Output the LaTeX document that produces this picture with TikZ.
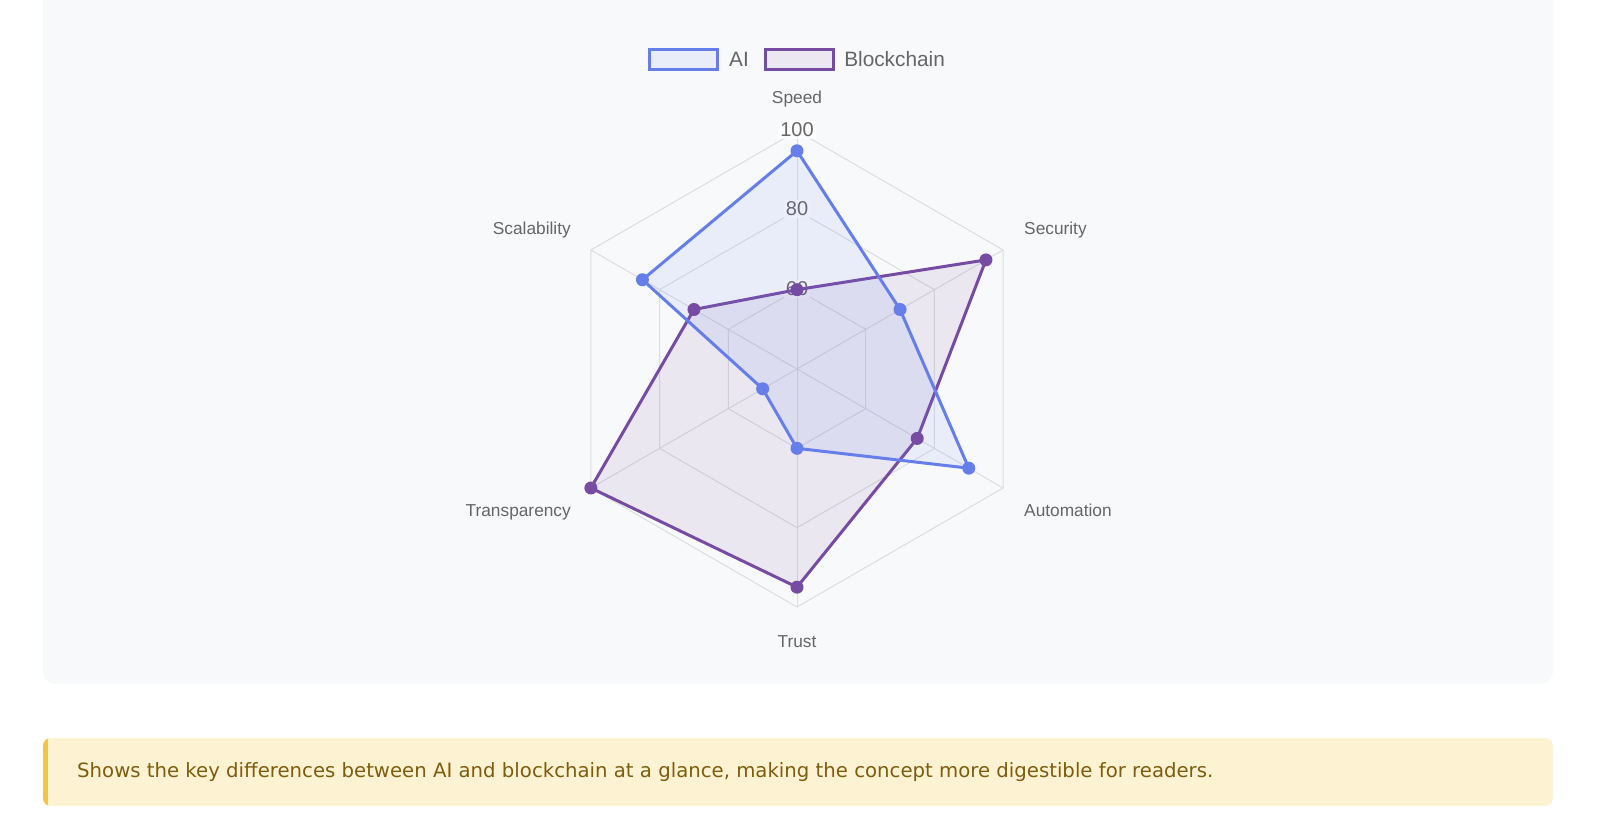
\documentclass[tikz,border=0pt]{standalone}
\usepackage{fontspec}
\setmainfont{Liberation Sans}
\newfontfamily\notefont{DejaVu Sans}
\usetikzlibrary{positioning}

\definecolor{aiblue}{HTML}{667EEA}
\definecolor{chainpurple}{HTML}{764BA2}
\definecolor{cardbg}{HTML}{F8F9FB}
\definecolor{gridgray}{HTML}{DDDDE0}
\definecolor{labelgray}{HTML}{666666}
\definecolor{notebg}{HTML}{FDF2D2}
\definecolor{notebar}{HTML}{F6C344}
\definecolor{notetext}{HTML}{7D5E10}

\begin{document}
\begin{tikzpicture}[x=1pt,y=1pt,
    grid/.style={draw=gridgray, line width=1pt},
    axislabel/.style={text=labelgray, font=\fontsize{17.3}{19}\selectfont, inner sep=0pt},
    ticklabel/.style={fill=white, fill opacity=0.75, text opacity=1, text=labelgray,
        font=\fontsize{20}{22}\selectfont, inner sep=2pt},
    legendbox/.style={minimum width=68pt, minimum height=20pt, inner sep=0pt, line width=3pt},
    legendtext/.style={text=labelgray, font=\fontsize{20.8}{23}\selectfont, inner sep=0pt},
    ailine/.style={draw=aiblue, line width=3pt, line join=round, fill=aiblue, fill opacity=0.1},
    chainline/.style={draw=chainpurple, line width=3pt, line join=round, fill=chainpurple, fill opacity=0.1}]
        \useasboundingbox (0,0) rectangle (1600,819);
        % Card and note box
        \fill[cardbg, rounded corners=12pt] (43,135) rectangle (1553,830);
        \fill[notebg, rounded corners=8pt] (43,13) rectangle (1553,81);
        \begin{scope}
            \clip[rounded corners=8pt] (43,13) rectangle (1553,81);
            \fill[notebar] (43,13) rectangle (48,81);
        \end{scope}
        \node[anchor=west, text=notetext, font=\notefont\fontsize{19.7}{23}\selectfont, inner sep=0pt] (note) at (77,47)
            {Shows the key differences between AI and blockchain at a glance, making the concept more digestible for readers.};
        % Legend
        \node[legendbox, draw=aiblue, fill=aiblue!10!cardbg] (aikey) at (683.5,759.5) {};
        \node[legendtext, right=10pt of aikey] (aitext) {AI};
        \node[legendbox, draw=chainpurple, fill=chainpurple!10!cardbg, right=15pt of aitext] (chainkey) {};
        \node[legendtext, right=9pt of chainkey] (chaintext) {Blockchain};
        % Radar chart
        \begin{scope}[shift={(797,450)}]
            % Grid rings and spokes
            \foreach \r in {79.33,158.67,238}
                \draw[grid] (90:\r) -- (30:\r) -- (-30:\r) -- (-90:\r) -- (210:\r) -- (150:\r) -- cycle;
            \foreach \i in {1,...,6} {
                \coordinate (out\i) at ({150-\i*60}:238);
                \draw[grid] (0,0) -- (out\i);
            }
            % Scale values
            \node[ticklabel, anchor=base] (tick100) at (0,232) {100};
            \node[ticklabel, anchor=base] (tick80) at (0,153) {80};
            \node[ticklabel, anchor=base] (tick60) at (0,73) {60};
            % Data points
            \foreach \v [count=\i] in {60,95,75,95,100,70}
                \coordinate (bc\i) at ({150-\i*60}:{(\v-40)*238/60});
            \foreach \v [count=\i] in {95,70,90,60,50,85}
                \coordinate (ai\i) at ({150-\i*60}:{(\v-40)*238/60});
            \draw[chainline] (bc1) -- (bc2) -- (bc3) -- (bc4) -- (bc5) -- (bc6) -- cycle;
            \draw[ailine] (ai1) -- (ai2) -- (ai3) -- (ai4) -- (ai5) -- (ai6) -- cycle;
            \foreach \i in {1,...,6} \fill[chainpurple] (bc\i) circle (6.5pt);
            \foreach \i in {1,...,6} \fill[aiblue] (ai\i) circle (6.5pt);
        \end{scope}
        % Axis labels
        \node[axislabel, anchor=base] (speed) at (797,715) {Speed};
        \node[axislabel, anchor=base west] (security) at (1024,584) {Security};
        \node[axislabel, anchor=base west] (automation) at (1024,302) {Automation};
        \node[axislabel, anchor=base] (trust) at (797,171) {Trust};
        \node[axislabel, anchor=base east] (transparency) at (571,302) {Transparency};
        \node[axislabel, anchor=base east] (scalability) at (571,584) {Scalability};
    \end{tikzpicture}
\end{document}
